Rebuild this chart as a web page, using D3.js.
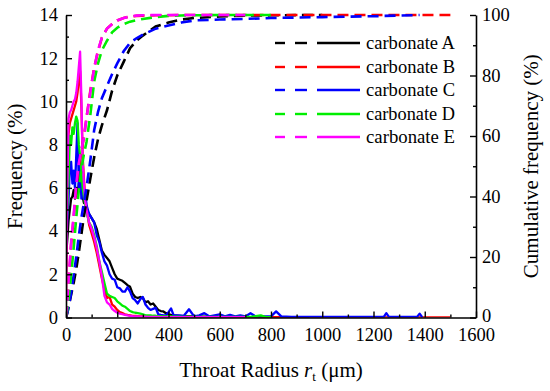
<!DOCTYPE html>
<html>
<head>
<meta charset="utf-8">
<script src="https://cdn.jsdelivr.net/npm/d3@7"></script>
<style>
  html, body { margin: 0; padding: 0; background: #fff; }
  svg { display: block; }
  text { font-family: "Liberation Serif", "Times New Roman", serif; fill: #000; }
</style>
</head>
<body>
<svg id="chart" width="550" height="391"></svg>
<script>
// ---------------- data ----------------
const seriesNames = ["carbonate A", "carbonate B", "carbonate C", "carbonate D", "carbonate E"];
const seriesColors = ["#000000", "#ff0000", "#0000ff", "#00ee00", "#ff00ff"];

// throat radius grid (µm) for frequency curves
const radius = [0,5,10,15,20,25,30,35,40,45,50,55,60,65,70,75,80,
  90,100,110,120,130,140,150,160,170,180,190,200,210,220,230,240,250,260,270,280,290,300,310,320,330,340,350,360,370,380,390,400,410,420,
  440,460,480,500,520,540,560,580,600,620,640,660,680,700,720,740,760,780,800,820,840,
  880,950,1050,1150,1240,1250,1260,1370,1380,1390,1450,1500];

// frequency (%)
const freqA = [2.8,3.6,4.5,5.0,5.5,5.6,5.9,5.5,6.0,5.6,6.2,6.35,5.8,5.6,5.3,5.4,5.0,
  4.8,4.6,4.4,4.1,3.6,3.1,2.9,2.75,2.6,2.3,2.0,1.8,1.75,1.7,1.6,1.5,1.42,1.1,0.95,0.9,0.95,0.9,0.7,0.75,0.6,0.65,0.5,0.35,0.3,0.28,0.2,0.15,0.12,0.1,
  0.08,0.06,0.05,0.05,0.04,0.04,0.03,0.03,0.03,0.02,0.02,0.02,0.02,0.02,0.02,0.02,0.01,0.01,0.01,0.01,0.01,
  0.01,0.01,null,null,null,null,null,null,null,null,null,null];
const freqB = [0.8,5.5,8.5,9.0,9.2,9.4,9.6,9.8,10.0,10.4,11.0,11.4,9.8,7.5,6.4,5.6,5.1,
  4.3,3.9,3.5,3.0,2.4,1.8,1.3,0.9,0.95,0.6,0.5,0.35,0.25,0.2,0.15,0.12,0.1,0.08,0.07,0.06,0.05,0.05,0.05,0.04,0.04,0.04,0.03,0.03,0.03,0.03,0.03,0.02,0.02,0.02,
  0.02,0.02,0.02,0.02,0.02,0.02,0.02,0.02,0.02,0.02,0.02,0.02,0.02,0.02,0.02,0.02,0.02,0.02,0.02,0.02,0.02,
  0.01,0.01,0.01,0.01,0.01,0.01,0.01,0.01,0.01,0.01,0.01,0.01];
const freqC = [3.3,4.5,5.5,7.0,7.2,6.2,6.8,6.0,7.5,9.0,6.0,7.2,5.5,6.3,5.5,5.9,5.2,
  4.8,4.6,4.4,3.8,3.5,3.0,2.6,2.4,2.0,1.8,1.75,1.4,1.35,1.2,1.2,1.4,1.2,0.9,0.8,0.65,0.85,0.95,0.6,0.45,0.35,0.4,0.45,0.15,0.12,0.1,0.1,0.25,0.42,0.1,
  0.1,0.08,0.38,0.05,0.1,0.2,0.05,0.1,0.15,0.05,0.12,0.05,0.1,0.05,0.2,0.05,0.05,0.05,0.05,0.28,0.05,
  0.03,0.03,0.03,0.03,0.03,0.2,0.03,0.03,0.18,0.02,null,null];
const freqD = [3.4,5.0,6.5,8.4,8.0,8.8,8.5,9.0,9.3,9.1,8.0,7.5,6.8,6.0,5.6,5.2,4.9,
  4.4,4.2,3.8,3.3,2.6,2.1,1.6,1.1,1.0,0.95,0.9,0.75,0.65,0.55,0.5,0.4,0.3,0.25,0.22,0.2,0.18,0.15,0.1,0.1,0.1,0.08,0.08,0.06,0.06,0.05,0.05,0.05,0.05,0.04,
  0.04,0.03,0.03,0.03,0.03,0.03,0.03,0.03,0.03,0.03,0.03,0.03,0.03,0.03,0.03,0.06,0.1,0.02,0.02,null,null,
  null,null,null,null,null,null,null,null,null,null,null,null];
const freqE = [1.0,6.0,9.2,9.5,9.6,9.8,10.0,10.1,10.4,10.9,11.6,12.3,10.2,7.2,6.2,5.4,5.0,
  4.4,4.1,3.7,3.2,2.6,1.9,1.0,0.7,0.6,0.4,0.3,0.22,0.18,0.15,0.12,0.1,0.08,0.06,0.05,0.05,0.04,0.04,0.04,0.03,0.03,0.03,0.03,0.03,0.02,0.02,0.02,0.02,0.02,0.02,
  0.02,0.02,0.02,0.02,0.02,0.02,0.02,0.02,0.02,0.02,0.02,0.02,0.02,0.02,null,null,null,null,null,null,null,
  null,null,null,null,null,null,null,null,null,null,null,null];

// throat radius grid (µm) for cumulative curves
const cumRadius = [0,5,10,20,30,40,50,60,70,80,95,110,125,140,160,180,200,225,250,275,300,350,400,450,500,600,700,800,1000,1200,1380,1500];
// cumulative frequency (%)
const cumA = [0,1.5,3.5,7.5,11.5,16,21.5,27.5,33.5,38.5,46,53,59,63.5,68.5,75,80,84.5,89,91.5,93.2,96.2,97.5,98.5,99,99.5,99.8,99.9,100,null,null,null];
const cumB = [0,4,11,24,33,43,50,55,59.5,66,75,82.5,88,92.5,95.5,97,98.2,99,99.5,99.7,99.8,99.9,99.9,100,100,100,100,100,100,100,100,100];
const cumC = [0,1.5,3.5,8,14,20,27,33,38,43,52,62,68,72.5,76.5,80.5,84,88,90.8,92.3,93.5,95.5,96.5,97.5,98.2,98.5,98.7,99,99.3,99.6,100,null];
const cumD = [0,2.5,6,14,23,33,42,49,54,58,67,78,84,88.3,91.5,94.3,95.8,97,97.8,98.3,98.7,99.3,99.7,99.85,99.9,100,100,100,null,null,null,null];
const cumE = [0,5,12,25,34,44,51,55.5,59.5,66,74.5,82.5,88.5,92.5,95.5,97,98.2,99,99.5,99.8,99.9,100,100,100,100,100,100,null,null,null,null,null];

const xTicks = [0,200,400,600,800,1000,1200,1400,1600];
const yLeftTicks = [0,2,4,6,8,10,12,14];
const yRightTicks = [0,20,40,60,80,100];

// ---------------- layout ----------------
const svg = d3.select("#chart");
const L = 66, R = 476, T = 15, B = 317.5;
const x = d3.scaleLinear().domain([0, 1600]).range([L, R]);
const yL = d3.scaleLinear().domain([0, 14]).range([B, T]);
const yR = d3.scaleLinear().domain([0, 100]).range([B, T]);

svg.append("defs").append("clipPath").attr("id", "clip")
  .append("rect").attr("x", L).attr("y", T - 3).attr("width", R - L).attr("height", B - T + 3);

const freqs = [freqA, freqB, freqC, freqD, freqE];
const cums = [cumA, cumB, cumC, cumD, cumE];

const plot = svg.append("g").attr("clip-path", "url(#clip)");

const freqLine = d3.line()
  .defined(d => d[1] !== null)
  .x(d => x(d[0])).y(d => yL(d[1]));
const cumLine = d3.line()
  .defined(d => d[1] !== null)
  .x(d => x(d[0])).y(d => yR(d[1]));

freqs.forEach((arr, i) => {
  plot.append("path")
    .datum(radius.map((r, j) => [r, arr[j]]))
    .attr("d", freqLine)
    .attr("fill", "none")
    .attr("stroke", seriesColors[i])
    .attr("stroke-width", 2.3)
    .attr("stroke-linejoin", "round");
});
cums.forEach((arr, i) => {
  plot.append("path")
    .datum(cumRadius.map((r, j) => [r, arr[j]]))
    .attr("d", cumLine)
    .attr("fill", "none")
    .attr("stroke", seriesColors[i])
    .attr("stroke-width", 2.6)
    .attr("stroke-dasharray", "11,6");
});

// ---------------- axes ----------------
const tickFont = 18.5;
function styleAxis(g) {
  g.select(".domain").attr("stroke", "#000").attr("stroke-width", 1.6);
  g.selectAll(".tick line").attr("stroke", "#000").attr("stroke-width", 1.4);
  g.selectAll(".tick text").attr("font-size", tickFont).attr("font-family", "Liberation Serif, Times New Roman, serif").attr("fill", "#000");
}

const gx = svg.append("g").attr("transform", `translate(0,${B})`)
  .call(d3.axisBottom(x).tickValues(xTicks).tickFormat(d3.format("d")).tickSizeInner(-6).tickSizeOuter(0).tickPadding(10));
styleAxis(gx);
const gxm = svg.append("g").attr("transform", `translate(0,${B})`)
  .call(d3.axisBottom(x).tickValues(d3.range(100, 1600, 200)).tickFormat("").tickSizeInner(-3).tickSizeOuter(0));
gxm.select(".domain").remove();
styleAxis(gxm);

const gy = svg.append("g").attr("transform", `translate(${L},0)`)
  .call(d3.axisLeft(yL).tickValues(yLeftTicks).tickFormat(d3.format("d")).tickSizeInner(-6).tickSizeOuter(0).tickPadding(8));
styleAxis(gy);
const gym = svg.append("g").attr("transform", `translate(${L},0)`)
  .call(d3.axisLeft(yL).tickValues(d3.range(1, 14, 2)).tickFormat("").tickSizeInner(-3).tickSizeOuter(0));
gym.select(".domain").remove();
styleAxis(gym);

const gr = svg.append("g").attr("transform", `translate(${R},0)`)
  .call(d3.axisRight(yR).tickValues(yRightTicks).tickFormat(d3.format("d")).tickSizeInner(-6).tickSizeOuter(0).tickPadding(6));
styleAxis(gr);
const grm = svg.append("g").attr("transform", `translate(${R},0)`)
  .call(d3.axisRight(yR).tickValues(d3.range(10, 100, 20)).tickFormat("").tickSizeInner(-3).tickSizeOuter(0));
grm.select(".domain").remove();
styleAxis(grm);
// nudge the right-axis "0" up slightly so it clears the "1600" label
gr.selectAll(".tick text").filter(d => d === 0).attr("dy", "0.2em");

// ---------------- titles ----------------
const titleFont = 21;
svg.append("text")
  .attr("transform", `translate(22,${(T + B) / 2}) rotate(-90)`)
  .attr("text-anchor", "middle")
  .attr("font-size", titleFont)
  .text("Frequency (%)");
svg.append("text")
  .attr("transform", `translate(538,${(T + B) / 2}) rotate(-90)`)
  .attr("text-anchor", "middle")
  .attr("font-size", titleFont)
  .text("Cumulative frequency (%)");
const xt = svg.append("text")
  .attr("x", 271).attr("y", 377)
  .attr("text-anchor", "middle")
  .attr("font-size", titleFont);
xt.append("tspan").text("Throat Radius ");
xt.append("tspan").attr("font-style", "italic").text("r");
xt.append("tspan").attr("font-size", 13).attr("dy", 4).text("t");
xt.append("tspan").attr("dy", -4).text(" (\u03bcm)");

// ---------------- legend ----------------
const legY = [43, 67, 90, 114, 137];
const leg = svg.append("g");
seriesNames.forEach((name, i) => {
  const y = legY[i];
  [[275, 285], [295, 307]].forEach(([a, b]) => {
    leg.append("line").attr("x1", a).attr("x2", b).attr("y1", y).attr("y2", y)
      .attr("stroke", seriesColors[i]).attr("stroke-width", 2.4);
  });
  leg.append("line").attr("x1", 317).attr("x2", 360).attr("y1", y).attr("y2", y)
    .attr("stroke", seriesColors[i]).attr("stroke-width", 2.4);
  leg.append("text").attr("x", 366).attr("y", y).attr("dy", "0.35em")
    .attr("font-size", 18)
    .attr("textLength", 89).attr("lengthAdjust", "spacingAndGlyphs")
    .text(name);
});
</script>
</body>
</html>
